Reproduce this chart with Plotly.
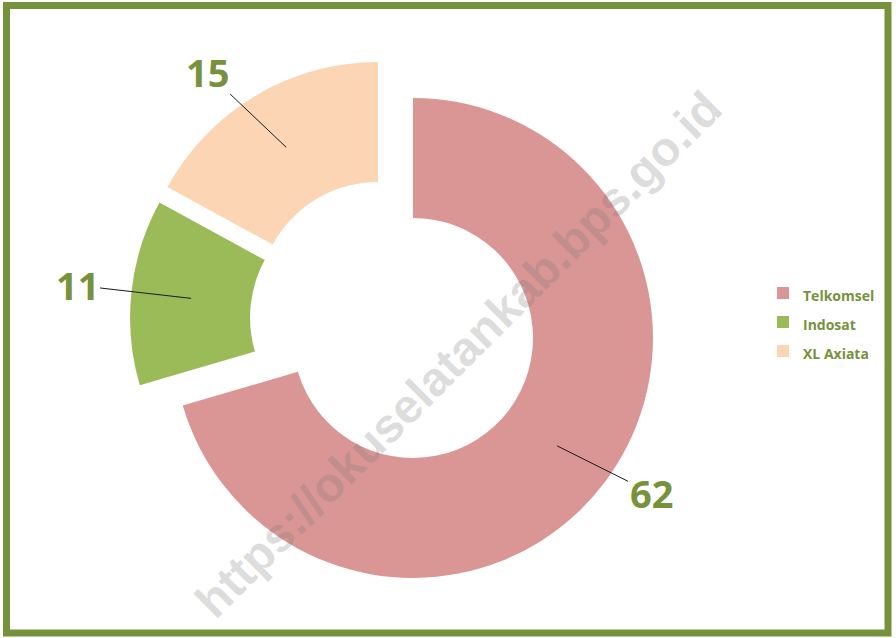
import math
import plotly.graph_objects as go

# ---- data ----
categories = ["Telkomsel", "Indosat", "XL Axiata"]
values = [62, 11, 15]
colors = ["#D99694", "#9BBB59", "#FCD5B5"]
pulls = [0.128, 0.077, 0.085]

W, H = 896, 638
GREEN = "#76923C"
HOLE = 0.5
DOM_X = [0.1314, 0.7356]
DOM_Y = [0.0748, 0.9234]

# replicate plotly's pie geometry to place the leader-line tips
box_w = W * (DOM_X[1] - DOM_X[0])
box_h = H * (DOM_Y[1] - DOM_Y[0])
r = min(box_w, box_h) / (2 + 2 * max(pulls))
cx = W * (DOM_X[0] + DOM_X[1]) / 2
cy = H * (1 - DOM_Y[0]) - box_h / 2

total = sum(values)
# pixel offset of each value label from its leader-line tip (same order as categories)
label_offsets = [(94, 47), (-114, -13), (-79, -75)]

annotations = []
acc = 0
for v, p, (ax, ay) in zip(values, pulls, label_offsets):
    mid = 2 * math.pi * (acc + v / 2) / total
    acc += v
    dx, dy = math.sin(mid), -math.cos(mid)
    rad = p * r + r * (1 + HOLE) / 2
    tx, ty = cx + rad * dx, cy + rad * dy
    annotations.append(dict(
        x=tx / W, y=1 - ty / H, xref="paper", yref="paper",
        text=str(v), showarrow=True, arrowhead=0, arrowwidth=1,
        arrowcolor="#1a1a1a", ax=ax, ay=ay, standoff=0,
        font=dict(family="Open Sans", size=38, color=GREEN, weight="bold"),
    ))

# watermark
annotations.append(dict(
    x=458 / W, y=1 - 354 / H, xref="paper", yref="paper",
    text="https://okuselatankab.bps.go.id", showarrow=False, textangle=-45,
    font=dict(family="Liberation Sans", size=48, color="rgba(120,120,120,0.26)", weight="bold"),
))

legend_names = [f"<span style='font-size:14px'><b>{c}</b></span>" for c in categories]

fig = go.Figure(go.Pie(
    labels=legend_names, values=values, hole=HOLE, pull=pulls,
    sort=False, direction="clockwise", rotation=0,
    marker=dict(colors=colors, line=dict(width=0)),
    textinfo="none", domain=dict(x=DOM_X, y=DOM_Y),
))

fig.update_layout(
    width=W, height=H, margin=dict(l=0, r=0, t=0, b=0),
    paper_bgcolor="white", plot_bgcolor="white",
    showlegend=True,
    legend=dict(x=763 / W, xanchor="left", y=1 - 322 / H, yanchor="middle",
                font=dict(family="Open Sans", size=20, color=GREEN),
                bgcolor="rgba(0,0,0,0)"),
    annotations=annotations,
    shapes=[dict(type="rect", xref="paper", yref="paper",
                 x0=6.5 / W, x1=888 / W, y0=1 - 633 / H, y1=1 - 5.5 / H,
                 line=dict(color=GREEN, width=7))],
)

fig.write_html("out.html", config={"displayModeBar": False},
               post_script="document.body.style.margin='0';document.body.style.overflow='hidden';")
